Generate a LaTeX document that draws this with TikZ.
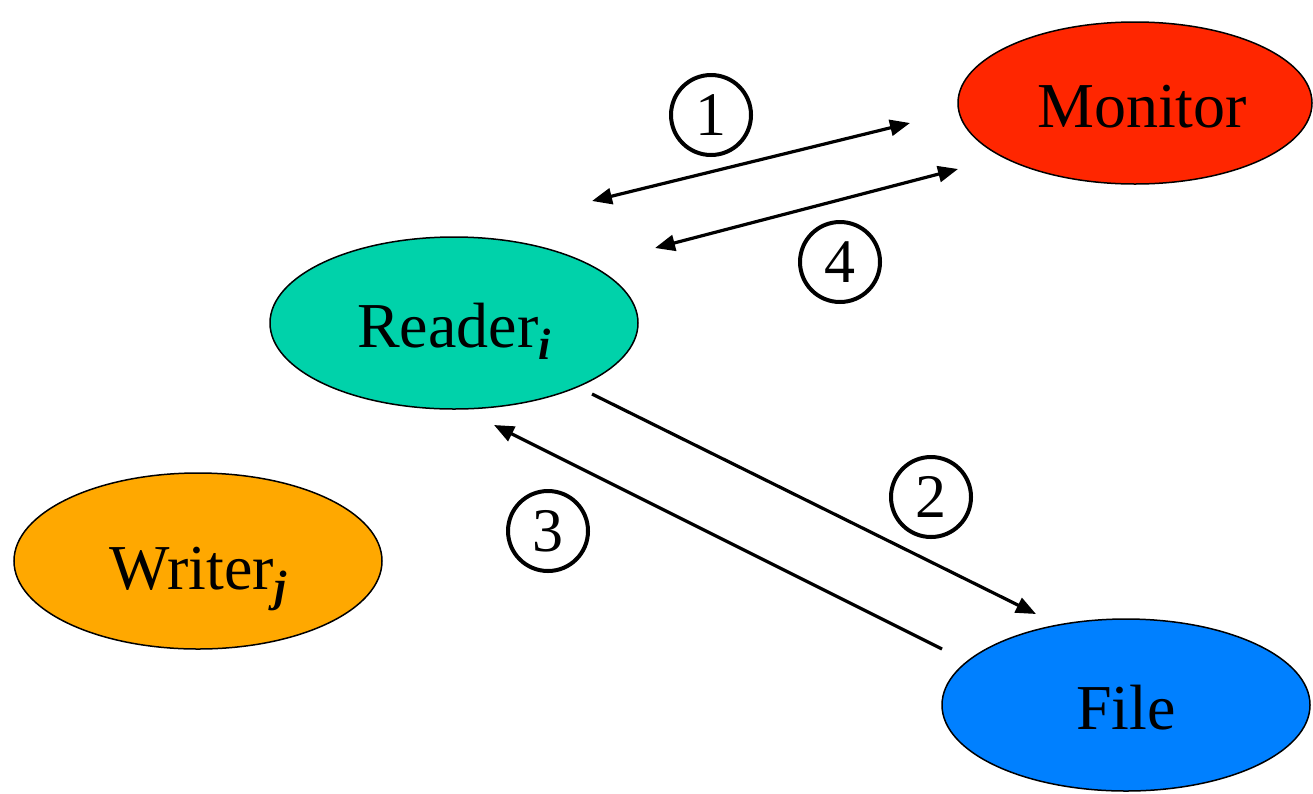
\documentclass[tikz,border=0pt]{standalone}
\usepackage{fontspec}
\setmainfont{Liberation Serif}
\usetikzlibrary{arrows.meta,shapes.geometric}
\definecolor{monred}{RGB}{255,38,0}
\definecolor{readteal}{RGB}{0,210,170}
\definecolor{writorange}{RGB}{255,168,0}
\definecolor{fileblue}{RGB}{0,128,255}
\newcommand{\lowsub}[1]{\raisebox{-12pt}{\fontsize{44}{48}\selectfont\textbf{\textit{#1}}}}
\tikzset{
  proc/.style={ellipse, draw=black, line width=1.5pt, inner sep=0pt, text height=48pt, text depth=0pt, font=\fontsize{64}{70}\selectfont},
  numc/.style={circle, draw=black, line width=4pt, minimum size=80pt, inner sep=0pt, font=\fontsize{62}{66}\selectfont},
  conn/.style={line width=3.2pt, -{Triangle[length=20pt,width=16pt]}},
  dconn/.style={line width=3.2pt, {Triangle[length=20pt,width=16pt]}-{Triangle[length=20pt,width=16pt]}}
}
\begin{document}
\begin{tikzpicture}[x=1pt,y=-1pt]
\useasboundingbox (0,0) rectangle (1313,793);
\path[fill=white] (0,0) rectangle (1313,793);
\node[proc, fill=monred, minimum width=354pt, minimum height=162pt] (mon) at (1135,103) {};
\node (monl) at (mon.center) [xshift=7pt, text height=48pt, text depth=0pt, inner sep=0pt, font=\fontsize{64}{70}\selectfont] {Monitor};
\node[proc, fill=readteal, minimum width=368pt, minimum height=172pt] (rdr) at (454,323) {Reader\lowsub{i}};
\node[proc, fill=writorange, minimum width=368pt, minimum height=176pt] (wtr) at (198,561) {\raisebox{-4pt}{Writer\lowsub{j}}};
\node[proc, fill=fileblue, minimum width=368pt, minimum height=172pt] (fil) at (1126,705) {File};
\node[numc] (n1) at (711,115) {1};
\node[numc] (n4) at (840,262) {4};
\node[numc] (n2) at (931,497) {2};
\node[numc] (n3) at (548,531) {3};
\coordinate (a1s) at (592,201);
\coordinate (a1e) at (910,123);
\coordinate (a4s) at (655,248);
\coordinate (a4e) at (958,169);
\coordinate (a2s) at (592,394);
\coordinate (a2e) at (1036,614);
\coordinate (a3s) at (942,649);
\coordinate (a3e) at (494,425);
\draw[dconn] (a1s) -- (a1e);
\draw[dconn] (a4s) -- (a4e);
\draw[conn] (a2s) -- (a2e);
\draw[conn] (a3s) -- (a3e);
\end{tikzpicture}
\end{document}
